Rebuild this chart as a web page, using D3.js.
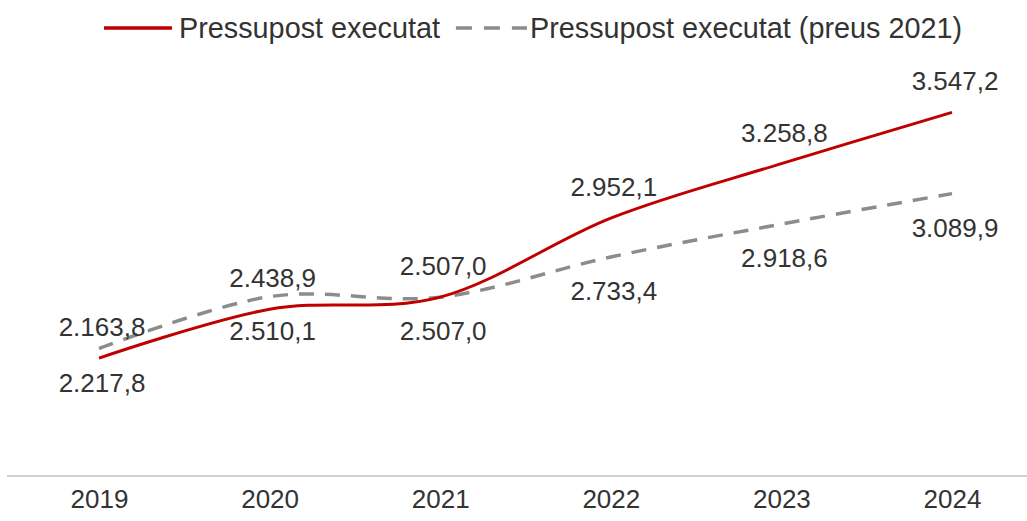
<!DOCTYPE html>
<html>
<head>
<meta charset="utf-8">
<script src="https://cdn.jsdelivr.net/npm/d3@7"></script>
<style>
  body { margin: 0; background: #fff; }
  svg { display: block; }
  text { font-family: "Liberation Sans", Arial, sans-serif; fill: #333; }
</style>
</head>
<body>
<svg id="chart" width="1027" height="521"></svg>
<script>
const years = ["2019", "2020", "2021", "2022", "2023", "2024"];
const nominal = [2163.8, 2438.9, 2507.0, 2952.1, 3258.8, 3547.2];
const real2021 = [2217.8, 2510.1, 2507.0, 2733.4, 2918.6, 3089.9];
const labelsNominal = ["2.163,8", "2.438,9", "2.507,0", "2.952,1", "3.258,8", "3.547,2"];
const labelsReal = ["2.217,8", "2.510,1", "2.507,0", "2.733,4", "2.918,6", "3.089,9"];
const seriesNames = ["Pressupost executat", "Pressupost executat (preus 2021)"];

const svg = d3.select("#chart");
const W = 1027, H = 521;

const x = d3.scalePoint().domain(years).range([99, 952]);
const y = d3.scaleLinear().domain([1500, 4000]).range([476, 32]);

const RED = "#c00000", GRAY = "#8c8c8c";
const FS = 26;
const LFS = 28.8;

// baseline axis
const xAxis = d3.axisBottom(x).tickSize(0).tickPadding(14);
const gx = svg.append("g").attr("transform", `translate(0,${y(1500)})`).call(xAxis);
gx.select(".domain").remove();
gx.append("line").attr("x1", 7).attr("x2", W).attr("y1", 0).attr("y2", 0)
  .attr("stroke", "#d0d0d0").attr("stroke-width", 2);
gx.selectAll(".tick text").attr("font-size", FS).attr("fill", "#333")
  .attr("font-family", "'Liberation Sans', Arial, sans-serif");

const line = d3.line().x((d, i) => x(years[i])).y(d => y(d)).curve(d3.curveCardinal.tension(0));

svg.append("path").datum(real2021).attr("d", line)
  .attr("fill", "none").attr("stroke", GRAY).attr("stroke-width", 3.5)
  .attr("stroke-dasharray", "15,11");
svg.append("path").datum(nominal).attr("d", line)
  .attr("fill", "none").attr("stroke", RED).attr("stroke-width", 3);

// labels
svg.append("g").selectAll("text").data(nominal).join("text")
  .attr("x", (d, i) => x(years[i]) + 3).attr("y", d => y(d) - 22)
  .attr("text-anchor", "middle").attr("font-size", FS)
  .text((d, i) => labelsNominal[i]);
svg.append("g").selectAll("text").data(real2021).join("text")
  .attr("x", (d, i) => x(years[i]) + 3).attr("y", d => y(d) + 43)
  .attr("text-anchor", "middle").attr("font-size", FS)
  .text((d, i) => labelsReal[i]);

// legend
const lg = svg.append("g");
const ly = 28;
lg.append("line").attr("x1", 104).attr("x2", 172).attr("y1", ly).attr("y2", ly)
  .attr("stroke", RED).attr("stroke-width", 3.5);
const t1 = lg.append("text").attr("x", 179).attr("y", 38).attr("font-size", LFS).text(seriesNames[0]);
const w1 = t1.node().getComputedTextLength();
const gx0 = 179 + w1 + 16;
lg.append("line").attr("x1", gx0).attr("x2", gx0 + 71).attr("y1", ly).attr("y2", ly)
  .attr("stroke", GRAY).attr("stroke-width", 3.5).attr("stroke-dasharray", "16,12");
lg.append("text").attr("x", gx0 + 74).attr("y", 38).attr("font-size", LFS).text(seriesNames[1]);
</script>
</body>
</html>
